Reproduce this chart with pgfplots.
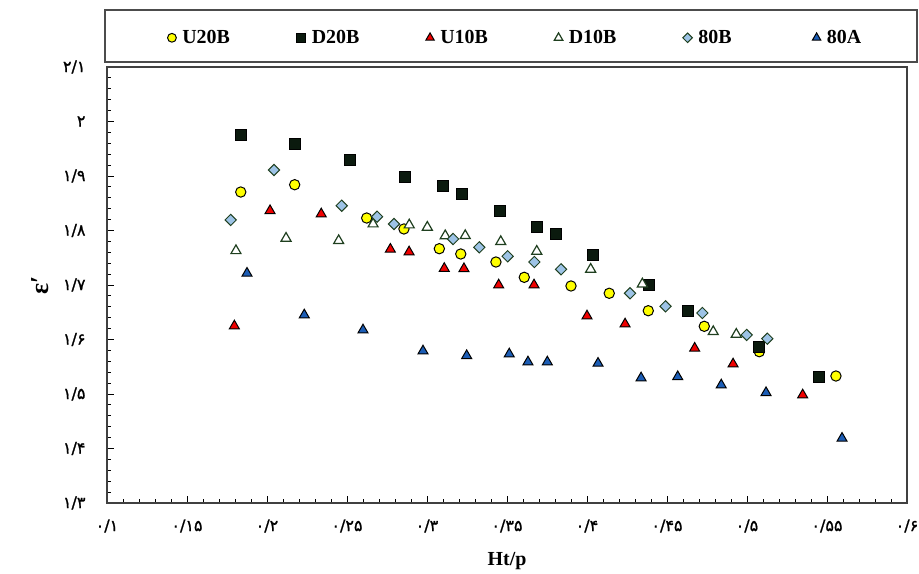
\documentclass[border=0pt]{standalone}
\usepackage{fontspec}
\setmainfont{Liberation Serif}
\newfontfamily\fadigits[FakeBold=1.2]{DejaVu Sans}
\usepackage{pgfplots}
\pgfplotsset{compat=1.18}

\definecolor{cyellow}{HTML}{FFFF00}
\definecolor{csquare}{HTML}{0B1A0E}
\definecolor{cred}{HTML}{F00000}
\definecolor{cgreen}{HTML}{1F3F1F}
\definecolor{clblue}{HTML}{9DC3E6}
\definecolor{cblue}{HTML}{1C5DB5}

\begin{document}
\begin{tikzpicture}
\useasboundingbox (-107bp,-71bp) rectangle (812bp,503bp);
\begin{axis}[
  width=800bp, height=436bp, scale only axis,
  xmin=0.1, xmax=0.6, ymin=1.3, ymax=2.1,
  xtick={0.1,0.15,0.2,0.25,0.3,0.35,0.4,0.45,0.5,0.55,0.6},
  xticklabels={۰/۱,۰/۱۵,۰/۲,۰/۲۵,۰/۳,۰/۳۵,۰/۴,۰/۴۵,۰/۵,۰/۵۵,۰/۶},
  ytick={1.3,1.4,1.5,1.6,1.7,1.8,1.9,2.0,2.1},
  yticklabels={۱/۳,۱/۴,۱/۵,۱/۶,۱/۷,۱/۸,۱/۹,۲,۲/۱},
  minor x tick num=4, minor y tick num=4,
  tick align=inside, xtick pos=bottom, ytick pos=left,
  major tick length=7bp, minor tick length=4.5bp,
  axis line style={line width=1.2pt, black!75},
  tick style={line width=0.9pt, black},
  tick label style={font=\fadigits\fontsize{16}{16}\selectfont},
  xticklabel style={yshift=-13bp},
  yticklabel style={xshift=-18bp},
  xlabel={\bfseries Ht/p},
  xlabel style={at={(axis description cs:0.5,0)}, anchor=base, yshift=-62bp,
                font=\fontsize{20}{20}\selectfont},
  ylabel={\fontsize{26}{26}\selectfont\bfseries ε′},
  ylabel style={at={(axis description cs:0,0.5)}, anchor=center, yshift=67bp},
  legend columns=6,
  legend style={draw=none, fill=none, at={(axis description cs:0.519,1.067)},
                anchor=center, font=\bfseries\fontsize{20}{20}\selectfont,
                /tikz/every odd column/.append style={column sep=4bp},
                /tikz/every even column/.append style={column sep=64bp}},
  legend image code/.code={\draw[#1,/tikz/every mark/.append style={scale=0.85}]
                plot coordinates {(0bp,0bp)};},
]

% U20B
\addplot[only marks, mark=*, mark size=5.2, mark options={fill=cyellow, draw=black, line width=1pt}]
coordinates {
(0.1836,1.8706) (0.2173,1.8840) (0.2623,1.8229) (0.2856,1.8028) (0.3077,1.7666)
(0.3211,1.7569) (0.3431,1.7422) (0.3608,1.7141) (0.3900,1.6982) (0.4139,1.6848)
(0.4383,1.6528) (0.4733,1.6242) (0.5077,1.5776) (0.5556,1.5330)
};
\addlegendentry{\makebox[48bp][l]{U20B}}

% D20B
\addplot[only marks, mark=square*, mark size=5.6, mark options={fill=csquare, draw=black, line width=0.8pt}]
coordinates {
(0.1836,1.9747) (0.2173,1.9587) (0.2519,1.9294) (0.2864,1.8976) (0.3097,1.8826)
(0.3217,1.8664) (0.3456,1.8363) (0.3686,1.8070) (0.3806,1.7941) (0.4039,1.7550)
(0.4389,1.6995) (0.4628,1.6528) (0.5075,1.5868) (0.5450,1.5312)
};
\addlegendentry{\makebox[48bp][l]{D20B}}

% U10B
\addplot[only marks, mark=triangle*, mark size=5.8, mark options={fill=cred, draw=black, line width=1pt}]
coordinates {
(0.1796,1.6248) (0.2019,1.8363) (0.2339,1.8303) (0.2771,1.7655) (0.2888,1.7606)
(0.3108,1.7303) (0.3231,1.7299) (0.3448,1.7000) (0.3669,1.7000) (0.4000,1.6431)
(0.4238,1.6284) (0.4673,1.5839) (0.4913,1.5550) (0.5348,1.4982)
};
\addlegendentry{\makebox[48bp][l]{U10B}}

% D10B
\addplot[only marks, mark=triangle*, mark size=5.8, mark options={fill=white, draw=cgreen, line width=1.2pt}]
coordinates {
(0.1806,1.7629) (0.2119,1.7857) (0.2448,1.7813) (0.2663,1.8119) (0.2889,1.8101)
(0.3002,1.8059) (0.3114,1.7903) (0.3239,1.7905) (0.3461,1.7795) (0.3686,1.7618)
(0.4023,1.7288) (0.4346,1.7018) (0.4789,1.6143) (0.4933,1.6095)
};
\addlegendentry{\makebox[48bp][l]{D10B}}

% 80B
\addplot[only marks, mark=square*, mark size=4.0, mark options={rotate=45, fill=clblue, draw=cgreen, line width=1pt}]
coordinates {
(0.1773,1.8193) (0.2044,1.9110) (0.2467,1.8455) (0.2688,1.8253) (0.2794,1.8119)
(0.3163,1.7844) (0.3327,1.7692) (0.3504,1.7527) (0.3671,1.7422) (0.3838,1.7288)
(0.4269,1.6848) (0.4491,1.6609) (0.4721,1.6486) (0.4998,1.6083) (0.5127,1.6015)
};
\addlegendentry{\makebox[48bp][l]{80B}}

% 80A
\addplot[only marks, mark=triangle*, mark size=5.8, mark options={fill=cblue, draw=black, line width=1pt}]
coordinates {
(0.1875,1.7215) (0.2233,1.6450) (0.2600,1.6174) (0.2975,1.5789) (0.3248,1.5703)
(0.3514,1.5734) (0.3631,1.5587) (0.3752,1.5587) (0.4069,1.5563) (0.4338,1.5294)
(0.4567,1.5317) (0.4839,1.5165) (0.5119,1.5024) (0.5594,1.4187)
};
\addlegendentry{\makebox[48bp][l]{80A}}

\end{axis}
% frame around the legend row
\draw[line width=1.2pt, black!70] (-2bp,441bp) rectangle (810bp,493bp);
\end{tikzpicture}
\end{document}
